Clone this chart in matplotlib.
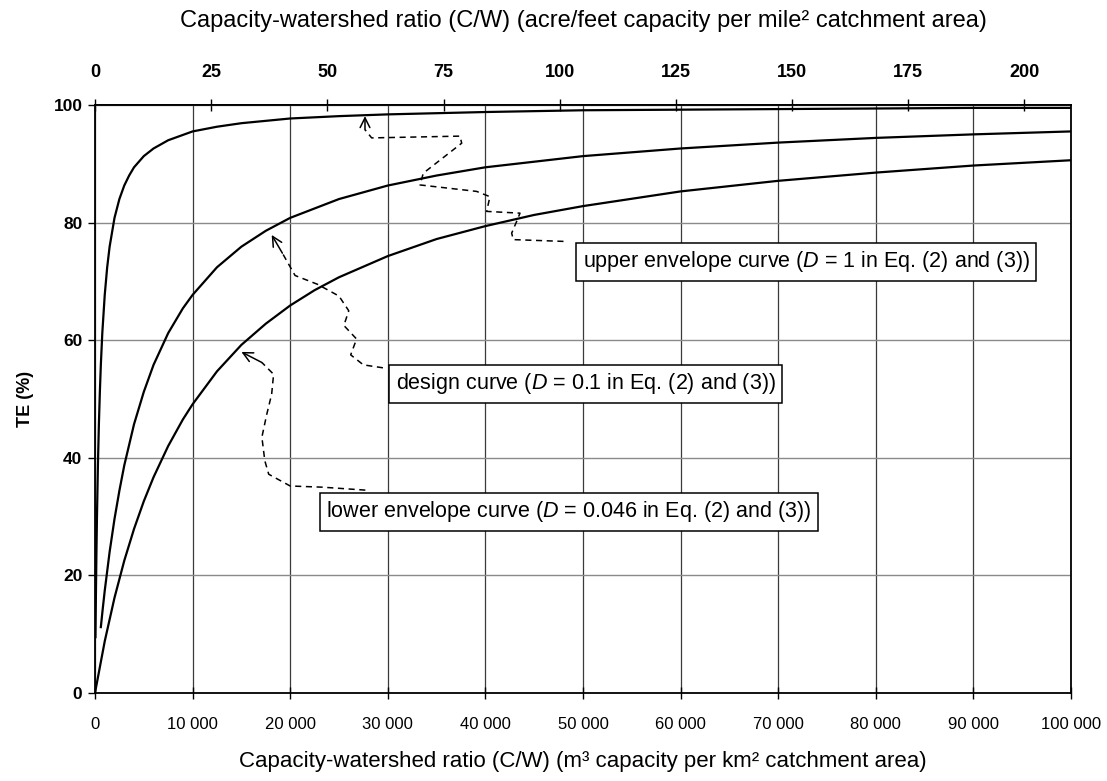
import matplotlib
matplotlib.use("Agg")
import matplotlib.pyplot as plt
from matplotlib.ticker import FixedLocator, FuncFormatter

# ---------------- data ----------------
# x: capacity-watershed ratio (m3 per km2), y: trap efficiency TE (%)
upper_x = [50, 100, 150, 200, 300, 400, 500, 600, 750, 1000, 1250, 1500, 2000,
           2500, 3000, 3500, 4000, 5000, 6000, 7500, 10000, 12500, 15000, 20000,
           25000, 30000, 40000, 50000, 60000, 70000, 80000, 90000, 100000]
upper_y = [9.5, 17.4, 24.0, 29.6, 38.7, 45.7, 51.2, 55.8, 61.2, 67.7, 72.4, 75.9,
           80.8, 84.0, 86.3, 88.0, 89.4, 91.3, 92.6, 94.0, 95.5, 96.3, 96.9, 97.7,
           98.1, 98.4, 98.8, 99.1, 99.2, 99.3, 99.4, 99.5, 99.5]

design_x = [600, 800, 1000, 1500, 2000, 2500, 3000, 4000, 5000, 6000, 7500,
            9000, 10000, 12500, 15000, 17500, 20000, 25000, 30000, 35000, 40000,
            50000, 60000, 70000, 80000, 90000, 100000]
design_y = [11.2, 14.4, 17.4, 24.0, 29.6, 34.4, 38.7, 45.7, 51.2, 55.8, 61.2,
            65.4, 67.7, 72.4, 75.9, 78.6, 80.8, 84.0, 86.3, 88.0, 89.4,
            91.3, 92.6, 93.6, 94.4, 95.0, 95.5]

lower_x = [0, 1000, 2000, 3000, 4000, 5000, 6000, 7500, 9000, 10000, 12500,
           15000, 17500, 20000, 22500, 25000, 30000, 35000, 40000, 45000, 50000,
           60000, 70000, 80000, 90000, 100000]
lower_y = [0, 8.8, 16.2, 22.5, 27.9, 32.6, 36.7, 42.0, 46.5, 49.1, 54.7,
           59.2, 62.8, 65.9, 68.5, 70.7, 74.3, 77.2, 79.4, 81.3, 82.8,
           85.3, 87.1, 88.5, 89.7, 90.6]

x_ticks = [0, 10000, 20000, 30000, 40000, 50000, 60000, 70000, 80000, 90000, 100000]
y_ticks = [0, 20, 40, 60, 80, 100]
top_ticks = [0, 25, 50, 75, 100, 125, 150, 175, 200]   # acre-ft per mile2
M3KM2_PER_AFMI2 = 476.1

labels = ["upper envelope curve ($\\it{D}$ = 1 in Eq. (2) and (3))",
          "design curve ($\\it{D}$ = 0.1 in Eq. (2) and (3))",
          "lower envelope curve ($\\it{D}$ = 0.046 in Eq. (2) and (3))"]

# annotation geometry (positions in data units)
label_pos = [(72850, 73.3), (50300, 52.6), (48560, 30.8)]
arrow_paths = [
    [(48000, 76.8), (42861, 77.1), (42691, 78.2), (43203, 80.2), (43545, 81.6),
     (40127, 81.9), (40464, 84.4), (39102, 85.3), (33299, 86.4), (33638, 88.4),
     (37572, 93.5), (37398, 94.7), (28347, 94.4), (27664, 95.8), (27664, 98.1)],
    [(29500, 55.3), (27500, 55.8), (26200, 57.5), (26800, 60.2), (25500, 62.5),
     (26000, 65.0), (25000, 67.5), (22800, 69.5), (20500, 71.0), (19200, 74.8),
     (18105, 77.9)],
    [(27700, 34.5), (23300, 35.0), (20000, 35.2), (17800, 37.2), (17400, 39.5),
     (17100, 43.5), (17600, 47.4), (18100, 50.8), (18300, 54.2), (17100, 56.2),
     (15000, 58.0)],
]

# ---------------- figure ----------------
plt.rcParams['font.family'] = ['Liberation Sans', 'DejaVu Sans']
plt.rcParams['mathtext.fontset'] = 'custom'
plt.rcParams['mathtext.rm'] = 'Liberation Sans'
plt.rcParams['mathtext.it'] = 'Liberation Sans:italic'

fig = plt.figure(figsize=(11.07, 7.81), dpi=100)
ax = fig.add_axes([0.0858, 0.1127, 0.8817, 0.7529])

ax.set_xlim(0, 100000)
ax.set_ylim(0, 100)

ax.xaxis.set_major_locator(FixedLocator(x_ticks))
ax.yaxis.set_major_locator(FixedLocator(y_ticks))
ax.xaxis.set_major_formatter(FuncFormatter(lambda v, p: f"{int(v):,}".replace(",", " ")))
ax.xaxis.grid(True, color='#3a3a3a', lw=0.9)
ax.yaxis.grid(True, color='#8a8a8a', lw=1.0)
ax.set_axisbelow(True)

for sp in ax.spines.values():
    sp.set_linewidth(1.3)
    sp.set_color('black')

ax.tick_params(axis='x', direction='inout', length=8, width=1, labelsize=12, pad=13)
ax.tick_params(axis='y', direction='out', length=5, width=1, labelsize=12.5, pad=4)
for t in ax.get_yticklabels():
    t.set_fontweight('bold')

for xs, ys in [(upper_x, upper_y), (design_x, design_y), (lower_x, lower_y)]:
    ax.plot(xs, ys, color='black', lw=1.6, zorder=3)

ax.set_xlabel("Capacity-watershed ratio (C/W) (m³ capacity per km² catchment area)",
              fontsize=16, labelpad=14)
ax.set_ylabel("TE (%)", fontsize=13, fontweight='bold', labelpad=14)

# top axis
top = ax.secondary_xaxis('top', functions=(lambda x: x / M3KM2_PER_AFMI2,
                                           lambda a: a * M3KM2_PER_AFMI2))
top.xaxis.set_major_locator(FixedLocator(top_ticks))
top.tick_params(direction='inout', length=8, width=1, labelsize=13, pad=13)
for t in top.get_xticklabels():
    t.set_fontweight('bold')
top.spines['top'].set_linewidth(1.3)
top.set_xlabel("Capacity-watershed ratio (C/W) (acre/feet capacity per mile² catchment area)",
               fontsize=17, labelpad=27)

# boxed labels and dashed arrows
for txt, (lx, ly) in zip(labels, label_pos):
    ax.text(lx, ly, txt, ha='center', va='center', fontsize=15.5, zorder=5,
            bbox=dict(boxstyle='square,pad=0.3', fc='white', ec='black', lw=1.1))

for path in arrow_paths:
    px = [p[0] for p in path[:-1]]
    py = [p[1] for p in path[:-1]]
    ax.plot(px, py, color='black', lw=1.1, ls=(0, (4, 3)), zorder=4)
    ax.annotate('', xy=path[-1], xytext=path[-2],
                arrowprops=dict(arrowstyle='->,head_length=0.7,head_width=0.35',
                                lw=1.1, color='black',
                                shrinkA=0, shrinkB=0), zorder=4)

fig.savefig("out.png", dpi=100)
